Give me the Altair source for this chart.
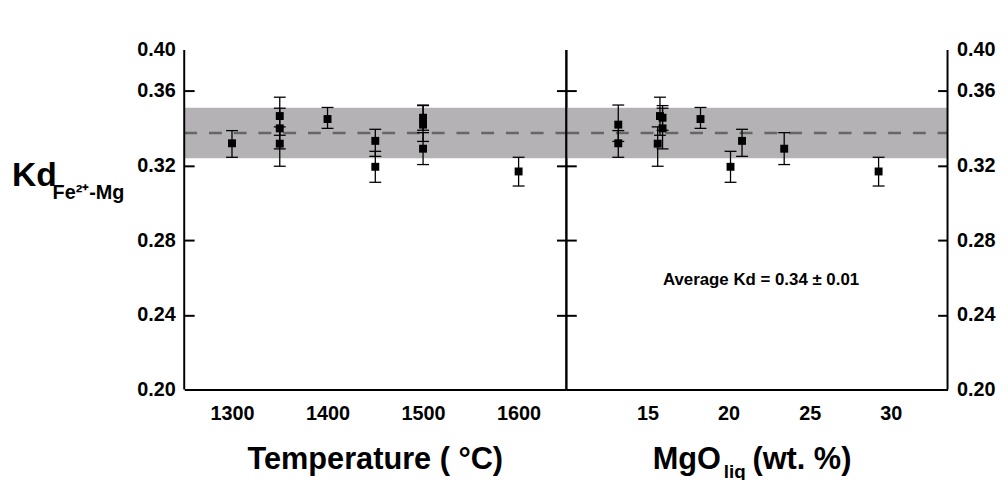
import altair as alt
import pandas as pd

FONT = "Liberation Sans"

# ---- data ----
temperature = [1300, 1350, 1350, 1350, 1400, 1450, 1450, 1500, 1500, 1500, 1600]
mgo_liq = [13.2, 15.77, 15.93, 15.63, 18.27, 20.83, 20.12, 15.93, 13.2, 23.43, 29.25]
kd = [0.3320, 0.3466, 0.3400, 0.3318, 0.3450, 0.3333, 0.3194, 0.3457, 0.3420, 0.3291, 0.3169]
kd_lo = [0.3245, 0.3363, 0.3290, 0.3197, 0.3400, 0.3250, 0.3111, 0.3390, 0.3330, 0.3206, 0.3091]
kd_hi = [0.3388, 0.3567, 0.3508, 0.3408, 0.3512, 0.3395, 0.3277, 0.3522, 0.3525, 0.3377, 0.3245]

avg_kd = [0.3375]
avg_band_lo = [0.324]
avg_band_hi = [0.351]

y_domain = [0.20, 0.382]
y_ticks = [0.20, 0.24, 0.28, 0.32, 0.36, 0.382]
t_domain = [1250, 1650]
t_ticks = [1300, 1400, 1500, 1600]
m_domain = [10, 33.5]
m_ticks = [15, 20, 25, 30]

df = pd.DataFrame({"T": temperature, "MgO": mgo_liq, "kd": kd, "lo": kd_lo, "hi": kd_hi})
band_df = pd.DataFrame({"blo": avg_band_lo, "bhi": avg_band_hi, "mean": avg_kd})
one = pd.DataFrame({"a": [0]})

W_L, W_R, H = 386, 385, 343

yscale = alt.Scale(domain=y_domain, nice=False, zero=False)
label_expr = "datum.value > 0.37 ? '0.40' : format(datum.value, '.2f')"


def y_axis(orient, labels):
    return alt.Axis(
        orient=orient, values=y_ticks, labels=labels, labelExpr=label_expr,
        labelFont=FONT, labelFontWeight="bold", labelFontSize=20, labelColor="black",
        labelPadding=9, ticks=True, tickSize=10, tickWidth=2, tickColor="black",
        tickOpacity={"condition": {"test": "datum.value > 0.37 || datum.value < 0.21", "value": 0}, "value": 1},
        offset=-10, domain=False, grid=False, title=None,
    )


def x_axis(vals):
    return alt.Axis(
        values=vals, format="d", labelFont=FONT, labelFontWeight="bold", labelFontSize=20,
        labelColor="black", labelPadding=14, ticks=False, tickSize=0, domain=True,
        domainColor="black", domainWidth=2, grid=False, title=None, labelFlush=False,
    )


def text(t, x, y, size, align="left"):
    return alt.Chart(one).mark_text(
        text=t, font=FONT, fontSize=size, fontWeight="bold", color="black",
        align=align, baseline="alphabetic",
    ).encode(x=alt.value(x), y=alt.value(y))


def panel(xfield, xdomain, xticks, width, left_labels, right_labels, extras):
    x = alt.X(f"{xfield}:Q", scale=alt.Scale(domain=xdomain, nice=False, zero=False), axis=x_axis(xticks))
    yax = y_axis("left", left_labels)
    band = alt.Chart(band_df).mark_rect(color="#b4b2b4").encode(
        x=alt.value(0), x2=alt.value("width"),
        y=alt.Y("blo:Q", scale=yscale, axis=yax), y2="bhi:Q")
    mean = alt.Chart(band_df).mark_rule(color="#666666", strokeDash=[13, 12], strokeWidth=2.5).encode(
        x=alt.value(0), x2=alt.value("width"), y=alt.Y("mean:Q", scale=yscale, axis=yax))
    err = alt.Chart(df).mark_rule(color="black", strokeWidth=1.3).encode(
        x=x, y=alt.Y("lo:Q", scale=yscale, axis=yax), y2="hi:Q")
    cap_lo = alt.Chart(df).mark_tick(orient="horizontal", size=12, thickness=1.3, color="black", opacity=1).encode(
        x=x, y=alt.Y("lo:Q", scale=yscale, axis=yax))
    cap_hi = alt.Chart(df).mark_tick(orient="horizontal", size=12, thickness=1.3, color="black", opacity=1).encode(
        x=x, y=alt.Y("hi:Q", scale=yscale, axis=yax))
    pts = alt.Chart(df).mark_square(size=64, color="black", opacity=1, filled=True).encode(
        x=x, y=alt.Y("kd:Q", scale=yscale, axis=yax))
    fl = alt.Chart(one).mark_rule(color="black", strokeWidth=2).encode(
        x=alt.value(0), y=alt.value(0), y2=alt.value("height"))
    fr = alt.Chart(one).mark_rule(color="black", strokeWidth=2).encode(
        x=alt.value("width"), y=alt.value(0), y2=alt.value("height"))
    inner = alt.layer(band, mean, err, cap_lo, cap_hi, pts, fl, fr, *extras)
    dummy = alt.Chart(df).mark_point(opacity=0).encode(
        x=x, y=alt.Y("kd:Q", scale=yscale, axis=y_axis("right", right_labels)))
    return alt.layer(inner, dummy).resolve_scale(y="independent").properties(width=width, height=H)


left_extras = [
    text("Kd", -174, 137, 34),
    text("Fe²⁺-Mg", -133, 150, 20),
    text("Temperature ( °C)", W_L / 2, H + 80, 31, align="center"),
]

right_annot = alt.Chart(pd.DataFrame({"MgO": [22.0], "kd": [0.2585]})).mark_text(
    text="Average Kd = 0.34 ± 0.01", font=FONT, fontSize=17, fontWeight="bold", color="black",
    align="center", baseline="middle",
).encode(
    x=alt.X("MgO:Q", scale=alt.Scale(domain=m_domain, nice=False, zero=False), axis=x_axis(m_ticks)),
    y=alt.Y("kd:Q", scale=yscale, axis=y_axis("left", False)),
)

right_extras = [
    right_annot,
    text("MgO", 156, H + 80, 31, align="right"),
    text("liq", 159, H + 89, 19),
    text("(wt. %)", 188, H + 80, 31),
]

left = panel("T", t_domain, t_ticks, W_L, True, False, left_extras)
right = panel("MgO", m_domain, m_ticks, W_R, False, True, right_extras)

chart = alt.hconcat(left, right, spacing=0, bounds="flush").properties(
    padding={"left": 4, "top": 30, "right": 5, "bottom": 5}
).configure_view(stroke=None)

chart.save("out.html", embed_options={"renderer": "svg", "actions": False})
